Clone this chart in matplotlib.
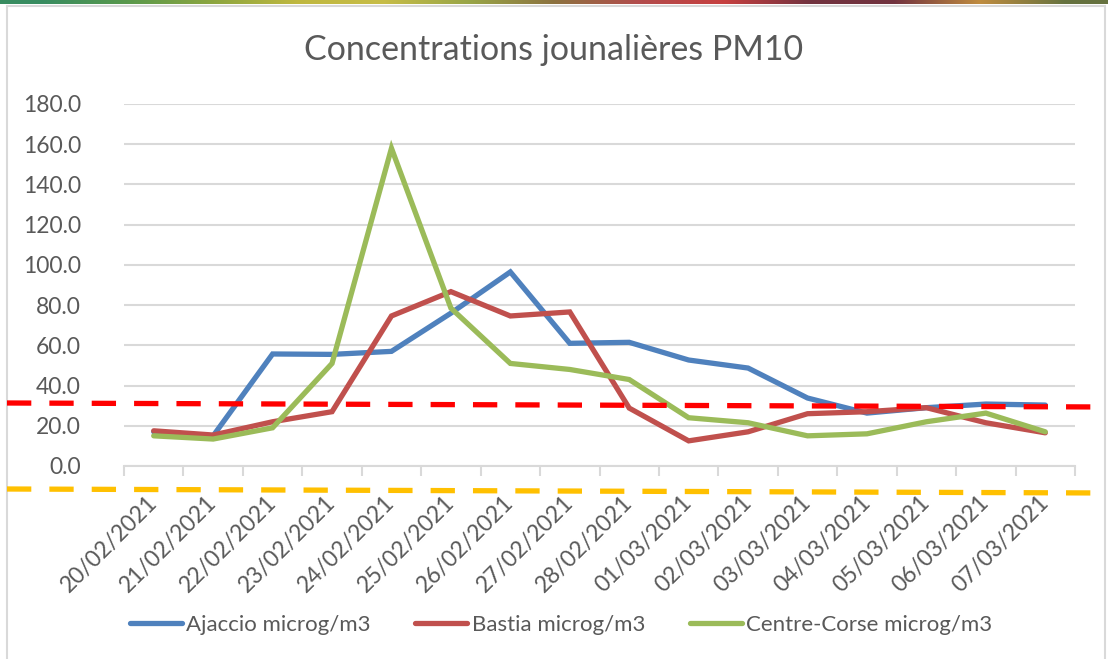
import matplotlib
matplotlib.use("Agg")
import matplotlib.pyplot as plt
import numpy as np
from matplotlib.lines import Line2D
from matplotlib.patches import Rectangle
from matplotlib.ticker import FixedLocator

plt.rcParams['font.family'] = ['Lato', 'DejaVu Sans']
plt.rcParams['lines.scale_dashes'] = False

dates = ["20/02/2021", "21/02/2021", "22/02/2021", "23/02/2021", "24/02/2021",
         "25/02/2021", "26/02/2021", "27/02/2021", "28/02/2021", "01/03/2021",
         "02/03/2021", "03/03/2021", "04/03/2021", "05/03/2021", "06/03/2021",
         "07/03/2021"]
ajaccio = [17.0, 15.0, 55.7, 55.5, 57.0, 76.0, 96.5, 61.0, 61.5, 52.7,
           48.7, 33.8, 26.3, 29.0, 30.8, 30.3]
bastia = [17.5, 15.4, 22.0, 27.0, 74.6, 86.7, 74.6, 76.6, 28.8, 12.5,
          17.0, 26.0, 27.0, 29.0, 21.5, 16.5]
centre = [15.0, 13.4, 19.0, 51.0, 158.0, 78.5, 51.0, 48.0, 43.0, 24.0,
          21.5, 15.0, 16.0, 22.0, 26.3, 17.0]
series_names = ["Ajaccio microg/m3", "Bastia microg/m3", "Centre-Corse microg/m3"]
colors = ["#4f81bd", "#c0504d", "#9bbb59"]
yticks = [0, 20, 40, 60, 80, 100, 120, 140, 160, 180]

W, H = 1108, 659
fig = plt.figure(figsize=(W / 100, H / 100), dpi=100)
fig.patch.set_facecolor("white")

def fx(px):
    return px / W

def fy(py):
    return 1 - py / H

# top colored strip (image artifact)
strip_cols = np.array([
    [0.22, 0.55, 0.38], [0.35, 0.60, 0.30], [0.55, 0.65, 0.25], [0.75, 0.72, 0.25],
    [0.78, 0.74, 0.28], [0.60, 0.65, 0.28], [0.55, 0.45, 0.25], [0.70, 0.30, 0.30],
    [0.78, 0.25, 0.25], [0.45, 0.20, 0.25], [0.45, 0.20, 0.25], [0.75, 0.55, 0.25],
    [0.40, 0.45, 0.25]])
sax = fig.add_axes([0, fy(4), 1, 4 / H])
sax.imshow(strip_cols[np.newaxis, :, :], aspect="auto", interpolation="bilinear")
sax.axis("off")

# chart border
fig.patches.append(Rectangle((fx(7), fy(700)), fx(1105) - fx(7), fy(6) - fy(700),
                             transform=fig.transFigure, fill=False,
                             edgecolor="#d9d9d9", lw=1.5))

ax = fig.add_axes([fx(124), fy(466), fx(1075) - fx(124), fy(104) - fy(466)])
x = np.arange(len(dates))
for vals, name, c in zip([ajaccio, bastia, centre], series_names, colors):
    ax.plot(x, vals, color=c, lw=3.8, label=name, solid_joinstyle="miter",
            solid_capstyle="round")

ax.set_xlim(-0.5, len(dates) - 0.5)
ax.set_ylim(0, 180)
ax.set_yticks(yticks)
ax.set_yticklabels([f"{v:.1f}" for v in yticks])
ax.yaxis.grid(True, color="#d9d9d9", lw=1.5)
ax.set_axisbelow(True)
for s in ["left", "right", "top"]:
    ax.spines[s].set_visible(False)
ax.spines["bottom"].set_color("#d9d9d9")
ax.spines["bottom"].set_linewidth(1.5)
ax.tick_params(axis="y", length=0, pad=31, labelsize=16.5, labelcolor="#595959")

ax.set_xticks(x)
ax.set_xticklabels(dates, rotation=45, ha="right", va="center",
                   rotation_mode="anchor")
ax.tick_params(axis="x", which="major", length=0, pad=24, labelsize=16.5,
               labelcolor="#595959")
ax.xaxis.set_minor_locator(FixedLocator(np.arange(-0.5, len(dates), 1.0)))
ax.tick_params(axis="x", which="minor", length=7, width=1.5, color="#d9d9d9")

fig.text(0.5, fy(50), "Concentrations jounalières PM10", ha="center", va="center",
         fontsize=24.5, color="#595959")

# threshold dashed lines (drawn across the figure)
fig.add_artist(Line2D([fx(7), fx(1108)], [fy(403), fy(407)], transform=fig.transFigure,
                      color="#ff0000", lw=3.8, dashes=(17.5, 13), dash_capstyle="butt"))
fig.add_artist(Line2D([fx(7), fx(1108)], [fy(489), fy(493)], transform=fig.transFigure,
                      color="#ffc000", lw=3.8, dashes=(17.5, 13), dash_capstyle="butt"))

leg = fig.legend(loc="center", bbox_to_anchor=(fx(561), fy(625)), ncol=3, frameon=False,
                 fontsize=16, handlelength=2.35, handletextpad=0.2, columnspacing=2.0,
                 labelcolor="#595959")

fig.savefig("out.png", dpi=100, facecolor="white")
